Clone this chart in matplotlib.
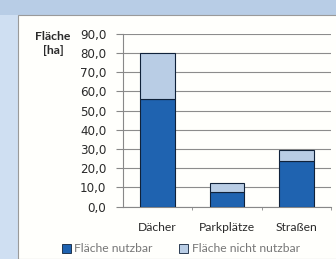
import numpy as np
import matplotlib.pyplot as plt
from matplotlib.patches import Rectangle, Patch

categories = ['Dächer', 'Parkplätze', 'Straßen']
nutzbar = [56.0, 7.5, 23.6]
gesamt = [80.0, 12.5, 29.5]
nicht_nutzbar = [g - n for g, n in zip(gesamt, nutzbar)]
yticks = [0, 10, 20, 30, 40, 50, 60, 70, 80, 90]

W, H = 336, 259
dark = '#1f63b0'
light = '#b9cde5'
txt = '#2a2a2a'


def main():
    plt.rcParams['font.family'] = ['Lato', 'DejaVu Sans']
    fig = plt.figure(figsize=(W / 100, H / 100), dpi=100)
    fig.patch.set_facecolor('#cfdff2')

    # frame: top strip and white chart area
    fig.patches.append(Rectangle((0, 1 - 15 / H), 1, 15 / H, transform=fig.transFigure,
                                 facecolor='#b8cde6', edgecolor='none', zorder=-10))
    fig.patches.append(Rectangle((18 / W, 0), 1, 1 - 15 / H, transform=fig.transFigure,
                                 facecolor='#fffffc', edgecolor='#9a9a9a', lw=0.8, zorder=-10))

    ax = fig.add_axes([123 / W, (H - 206.7) / H, 208 / W, 173 / H])
    ax.set_facecolor('none')
    x = np.arange(len(categories))
    ax.bar(x, nutzbar, width=0.5, color=dark, edgecolor='#10223a', lw=0.8, zorder=3)
    ax.bar(x, nicht_nutzbar, width=0.5, bottom=nutzbar, color=light,
           edgecolor='#10223a', lw=0.8, zorder=3)

    ax.set_xlim(-0.5, 2.5)
    ax.set_ylim(0, 90)
    ax.set_yticks(yticks)
    ax.set_yticklabels([f'{v:.1f}'.replace('.', ',') for v in yticks], fontsize=8.6,
                       color=txt, family=['DejaVu Sans'])
    ax.set_xticks(x)
    ax.set_xticklabels(categories, fontsize=8.7, color=txt)
    ax.set_xticks([0.5, 1.5, 2.5], minor=True)
    ax.tick_params(axis='x', which='major', length=0, pad=11)
    ax.tick_params(axis='x', which='minor', length=2, color='#888888')
    ax.tick_params(axis='y', length=5, color='#888888', pad=7)
    ax.grid(axis='y', color='#8c8c8c', lw=0.8, zorder=0)
    for s in ['top', 'right']:
        ax.spines[s].set_visible(False)
    ax.spines['left'].set_color('#888888')
    ax.spines['bottom'].set_color('#888888')

    fig.text(53 / W, 1 - 31 / H, 'Fläche\n[ha]', ha='center', va='top',
             fontsize=8.8, fontweight='bold', color=txt, linespacing=1.35)

    handles = [Patch(facecolor=dark, edgecolor='#10223a', lw=0.6),
               Patch(facecolor=light, edgecolor='#10223a', lw=0.6)]
    fig.legend(handles, ['Fläche nutzbar', 'Fläche nicht nutzbar'], ncol=2,
               loc='center', bbox_to_anchor=(181 / W, 1 - 249 / H), frameon=False,
               fontsize=8.7, labelcolor='#777777', handlelength=0.7, handleheight=0.7,
               handletextpad=0.3, columnspacing=2.2)

    fig.savefig('out.png', dpi=100, facecolor=fig.get_facecolor())


if __name__ == '__main__':
    main()
